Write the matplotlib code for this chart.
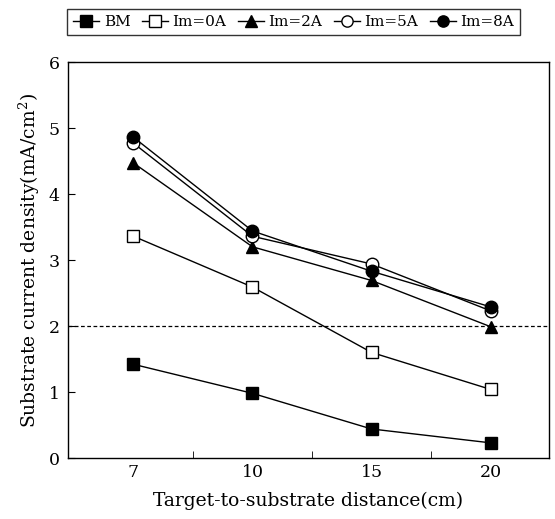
import matplotlib
matplotlib.use('Agg')
import matplotlib.pyplot as plt

# data
distances = ['7', '10', '15', '20']
bm = [1.42, 0.98, 0.44, 0.23]
im0 = [3.36, 2.59, 1.60, 1.04]
im2 = [4.47, 3.20, 2.69, 1.99]
im5 = [4.77, 3.36, 2.94, 2.23]
im8 = [4.86, 3.44, 2.83, 2.29]
labels = ['BM', 'Im=0A', 'Im=2A', 'Im=5A', 'Im=8A']

plt.rcParams['font.family'] = ['DejaVu Serif']
plt.rcParams['mathtext.fontset'] = 'dejavuserif'

fig = plt.figure(figsize=(5.55, 5.19), dpi=100)
ax = fig.add_axes([0.1225, 0.1175, 0.8665, 0.763])

x = list(range(len(distances)))
styles = [
    (bm, 's', 'black'),
    (im0, 's', 'white'),
    (im2, '^', 'black'),
    (im5, 'o', 'white'),
    (im8, 'o', 'black'),
]
handles = []
for (vals, mk, fc), lab in zip(styles, labels):
    h, = ax.plot(x, vals, color='black', lw=1.0, marker=mk, markersize=9,
                 markerfacecolor=fc, markeredgecolor='black', markeredgewidth=1.0,
                 label=lab)
    handles.append(h)

ax.axhline(2, color='black', lw=0.9, ls=(0, (3, 2)))

ax.set_xlim(-0.55, 3.49)
ax.set_ylim(0, 6)
ax.set_xticks(x)
ax.set_xticklabels(distances)
ax.set_xticks([0.5, 1.5, 2.5], minor=True)
ax.tick_params(axis='x', which='major', length=0, labelsize=12.5, pad=4)
ax.tick_params(axis='x', which='minor', direction='in', length=5)
ax.set_yticks(range(0, 7))
ax.tick_params(axis='y', direction='in', length=5, labelsize=12.5, pad=6)
for s in ax.spines.values():
    s.set_linewidth(1.0)

ax.set_xlabel('Target-to-substrate distance(cm)', fontsize=13.5, labelpad=8)
ax.set_ylabel('Substrate current density(mA/cm$^2$)', fontsize=13.5, labelpad=5)

leg = fig.legend(handles=handles, labels=labels, ncol=5, loc='upper left',
                 bbox_to_anchor=(0.121, 0.983), fontsize=11, frameon=True,
                 fancybox=False, edgecolor='black', handlelength=1.7,
                 handletextpad=0.3, columnspacing=0.75, borderpad=0.4,
                 borderaxespad=0, markerscale=0.9)
leg.get_frame().set_linewidth(1.0)

fig.savefig('out.png', dpi=100)
